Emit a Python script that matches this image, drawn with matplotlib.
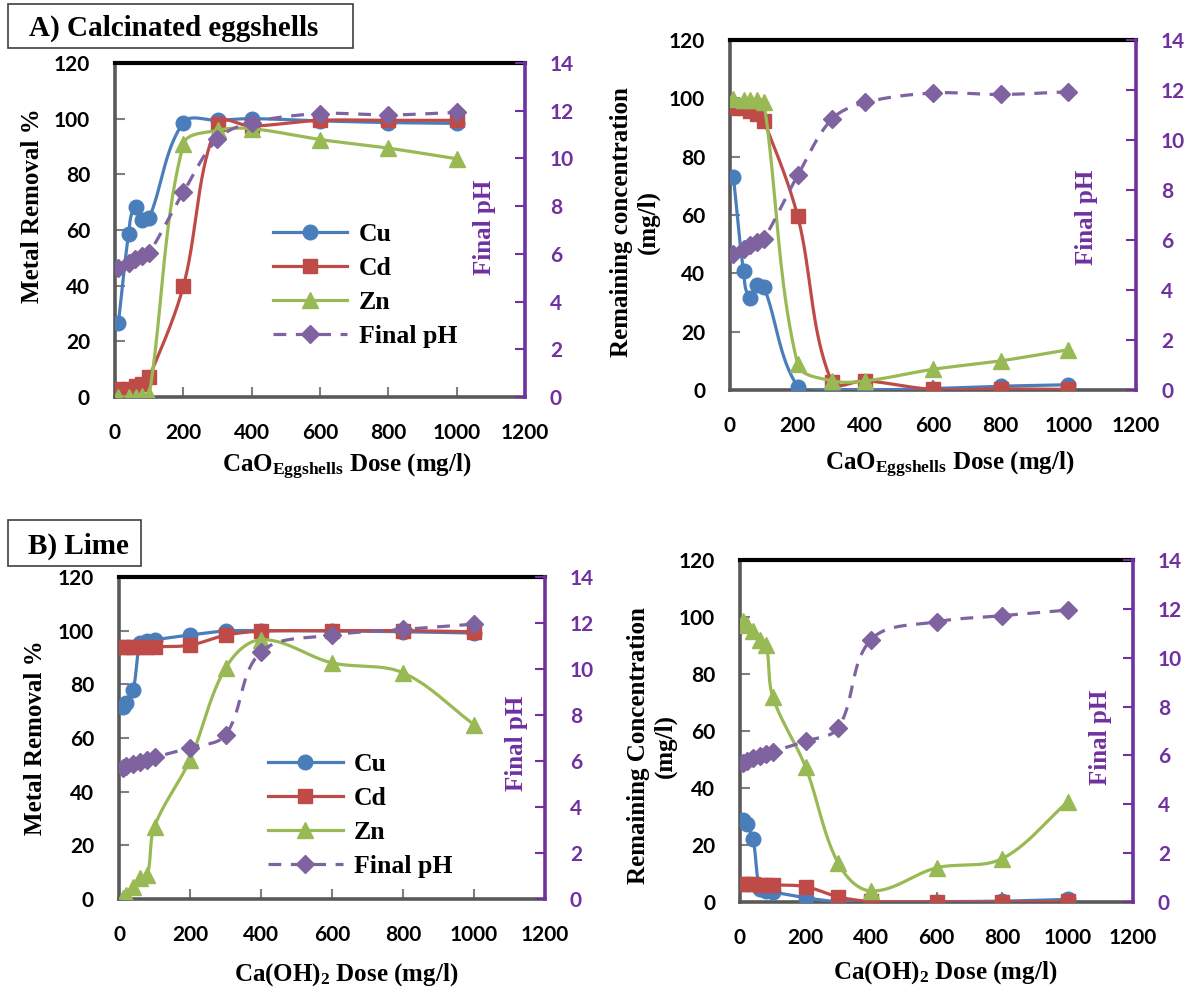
import numpy as np
import matplotlib
matplotlib.use('Agg')
import matplotlib.pyplot as plt
from matplotlib.lines import Line2D
from matplotlib.patches import Rectangle

plt.rcParams['font.family'] = ['Lato', 'DejaVu Sans']
plt.rcParams['font.weight'] = 'bold'
plt.rcParams['mathtext.fontset'] = 'custom'
plt.rcParams['mathtext.rm'] = 'Liberation Serif'
plt.rcParams['mathtext.bf'] = 'Liberation Serif:bold'
plt.rcParams['mathtext.it'] = 'Liberation Serif:italic'

# ---------------- data ----------------
dose_A = [10, 40, 60, 80, 100, 200, 300, 400, 600, 800, 1000]
cu_removal_A = [26.6, 58.6, 68.1, 63.7, 64.3, 98.6, 99.4, 100.0, 99.2, 98.6, 98.3]
cd_removal_A = [2.9, 2.9, 4.1, 4.6, 7.1, 39.8, 98.2, 97.3, 99.4, 99.4, 99.4]
zn_removal_A = [0.0, 0.0, 0.0, 0.2, 0.6, 90.8, 95.8, 96.4, 92.5, 89.4, 85.6]
ph_A = [5.42, 5.62, 5.78, 5.92, 6.04, 8.58, 10.82, 11.5, 11.88, 11.82, 11.93]
cu_remain_A = [73.2, 40.8, 31.6, 36.0, 35.4, 1.2, 0.3, 0.0, 0.5, 1.3, 1.8]
cd_remain_A = [96.8, 96.7, 95.6, 94.8, 92.3, 59.6, 2.9, 3.2, 0.2, 0.4, 0.2]
zn_remain_A = [99.8, 99.5, 99.5, 99.4, 98.8, 8.8, 3.2, 3.1, 7.1, 10.0, 13.8]

dose_B = [10, 20, 40, 60, 80, 100, 200, 300, 400, 600, 800, 1000]
cu_removal_B = [71.5, 73.0, 78.0, 95.4, 96.2, 96.6, 98.4, 99.9, 100.0, 99.9, 99.6, 99.1]
cd_removal_B = [93.8, 93.8, 93.8, 93.9, 94.0, 94.0, 94.6, 98.3, 99.8, 100.0, 100.0, 99.6]
zn_removal_B = [0.3, 1.5, 4.5, 7.8, 9.0, 27.0, 51.9, 86.0, 96.6, 88.0, 84.3, 65.0]
ph_B = [5.7, 5.78, 5.88, 5.97, 6.06, 6.16, 6.58, 7.13, 10.74, 11.47, 11.72, 11.95]
cu_remain_B = [28.6, 27.2, 22.0, 4.7, 3.9, 3.5, 1.5, 0.1, 0.0, 0.1, 0.3, 0.9]
cd_remain_B = [6.2, 6.2, 6.2, 6.1, 6.0, 6.0, 5.4, 1.8, 0.2, 0.0, 0.0, 0.2]
zn_remain_B = [98.7, 97.2, 95.2, 91.9, 90.2, 72.0, 47.4, 13.6, 3.9, 12.0, 15.2, 35.1]

x_ticks = [0, 200, 400, 600, 800, 1000, 1200]
y_ticks = [0, 20, 40, 60, 80, 100, 120]
ph_ticks = [0, 2, 4, 6, 8, 10, 12, 14]
series_labels = ['Cu', 'Cd', 'Zn', 'Final pH']

# ---------------- style ----------------
W, H = 1191, 994
C_CU = '#4A7EBB'
C_CD = '#BE4B48'
C_ZN = '#98B954'
C_PH = '#7F63A1'
C_AX2 = '#7030A0'
C_GRAY = '#7F7F7F'
SERIF = 'Liberation Serif'
MS = {'o': 10.5, 's': 9.5, '^': 11.5, 'D': 9.5}

fig = plt.figure(figsize=(W / 100, H / 100), dpi=100)


def fx(x):
    return x / W


def fy(y):
    return 1 - y / H


def smooth_xy(xs, ys, xmax, ymax, wpx, hpx, n=40):
    """Smoothed line through the points (Bezier, tangents scaled by segment length),
    computed in screen space."""
    px = np.asarray(xs, float) / xmax * wpx
    py = np.asarray(ys, float) / ymax * hpx
    P = np.column_stack([px, py])
    m = len(P)
    out = []
    t = np.linspace(0, 1, n)[:, None]

    def unit(v):
        nv = np.hypot(*v)
        return v / nv if nv > 0 else v

    for i in range(m - 1):
        p0 = P[max(i - 1, 0)]
        p1 = P[i]
        p2 = P[i + 1]
        p3 = P[min(i + 2, m - 1)]
        L = np.hypot(*(p2 - p1))
        c1 = p1 + unit(p2 - p0) * L / 3.0
        c2 = p2 - unit(p3 - p1) * L / 3.0
        seg = ((1 - t) ** 3) * p1 + 3 * ((1 - t) ** 2) * t * c1 + 3 * (1 - t) * t ** 2 * c2 + t ** 3 * p2
        out.append(seg if i == 0 else seg[1:])
    S = np.vstack(out)
    return S[:, 0] / wpx * xmax, S[:, 1] / hpx * ymax


def panel(box, dose, cu, cd, zn, ph, legend_at=None):
    l, t, r, b = box
    ax = fig.add_axes([fx(l), fy(b), fx(r) - fx(l), fy(t) - fy(b)])
    wpx, hpx = r - l, b - t
    ax.set_xlim(0, 1200)
    ax.set_ylim(0, 120)
    ax2 = ax.twinx()
    ax2.set_ylim(0, 14)

    specs = [(cu, C_CU, 'o'), (cd, C_CD, 's'), (zn, C_ZN, '^')]
    for k, (vals, col, mk) in enumerate(specs):
        sx, sy = smooth_xy(dose, vals, 1200, 120, wpx, hpx)
        ax.plot(sx, sy, color=col, lw=2.3, zorder=3 + k, solid_capstyle='round')
        ax.plot(dose, vals, ls='none', marker=mk, ms=MS[mk], color=col, zorder=3 + k)
    sx, sy = smooth_xy(dose, ph, 1200, 14, wpx, hpx)
    ax2.plot(sx, sy, color=C_PH, lw=2.3, dashes=(4, 3), zorder=3)
    ax2.plot(dose, ph, ls='none', marker='D', ms=MS['D'], color=C_PH, zorder=4)

    ax.set_xticks(x_ticks)
    ax.set_yticks(y_ticks)
    ax2.set_yticks(ph_ticks)
    ax.tick_params(axis='x', direction='in', length=7, width=1.5, color=C_GRAY,
                   pad=19, labelsize=15)
    ax.tick_params(axis='y', direction='in', length=7, width=1.5, color=C_GRAY,
                   pad=18, labelsize=15)
    ax2.tick_params(axis='y', direction='in', length=7, width=1.5, color=C_AX2,
                    pad=18, labelsize=15, labelcolor=C_AX2)
    for lbl in ax.get_xticklabels() + ax.get_yticklabels() + ax2.get_yticklabels():
        lbl.set_fontweight('bold')

    for s in ['left', 'bottom', 'top', 'right']:
        ax2.spines[s].set_visible(s == 'right')
    ax.spines['right'].set_visible(False)
    ax.spines['left'].set_color('#595959')
    ax.spines['bottom'].set_color('#595959')
    ax.spines['left'].set_linewidth(2.6)
    ax.spines['bottom'].set_linewidth(2.6)
    ax.spines['top'].set_color('black')
    ax.spines['top'].set_linewidth(3.0)
    ax2.spines['right'].set_color(C_AX2)
    ax2.spines['right'].set_linewidth(2.6)

    if legend_at is not None:
        handles = [
            Line2D([], [], color=C_CU, lw=2.3, marker='o', ms=MS['o']),
            Line2D([], [], color=C_CD, lw=2.3, marker='s', ms=MS['s']),
            Line2D([], [], color=C_ZN, lw=2.3, marker='^', ms=MS['^']),
            Line2D([], [], color=C_PH, lw=2.3, dashes=(4, 3), marker='D', ms=MS['D']),
        ]
        ax2.legend(handles, series_labels, loc='upper left', bbox_to_anchor=legend_at,
                   frameon=False, borderaxespad=0, borderpad=0, handlelength=2.9,
                   handletextpad=0.45, labelspacing=0.43,
                   prop={'family': SERIF, 'weight': 'bold', 'size': 18.5})
    return ax, ax2


# panel boxes (left, top, right, bottom) in pixels
panel((115, 63, 525, 397), dose_A, cu_removal_A, cd_removal_A, zn_removal_A, ph_A,
      legend_at=(0.385, 0.522))
panel((730, 40, 1136, 390), dose_A, cu_remain_A, cd_remain_A, zn_remain_A, ph_A)
panel((119, 577, 545, 899), dose_B, cu_removal_B, cd_removal_B, zn_removal_B, ph_B,
      legend_at=(0.35, 0.453))
panel((740, 560, 1133, 902), dose_B, cu_remain_B, cd_remain_B, zn_remain_B, ph_B)

LBL = dict(fontfamily=SERIF, fontweight='bold', fontsize=18)

# y labels (left)
fig.text(fx(33), fy(206), 'Metal Removal %', rotation=90, ha='center', va='center', **LBL)
fig.text(fx(635), fy(222), 'Remaining concentration\n(mg/l)', rotation=90, ha='center',
         va='center', multialignment='center', linespacing=1.15, **LBL)
fig.text(fx(36), fy(738), 'Metal Removal %', rotation=90, ha='center', va='center', **LBL)
fig.text(fx(652), fy(746), 'Remaining Concentration\n(mg/l)', rotation=90, ha='center',
         va='center', multialignment='center', linespacing=1.15, **LBL)

# right labels
for (xx, yy) in [(485, 227), (1087, 217), (517, 743), (1100, 737)]:
    fig.text(fx(xx), fy(yy), 'Final pH', rotation=90, ha='center', va='center',
             color=C_AX2, **LBL)

# x labels
xl_egg = r'CaO$_{\mathbf{Eggshells}}$ Dose (mg/l)'
xl_lime = r'Ca(OH)$_{\mathbf{2}}$ Dose (mg/l)'
fig.text(fx(347), fy(467), xl_egg, ha='center', va='center', **LBL)
fig.text(fx(950), fy(465), xl_egg, ha='center', va='center', **LBL)
fig.text(fx(346), fy(975), xl_lime, ha='center', va='center', **LBL)
fig.text(fx(945), fy(973), xl_lime, ha='center', va='center', **LBL)

# panel title boxes
fig.add_artist(Rectangle((fx(8), fy(48)), fx(353) - fx(8), fy(4) - fy(48),
                         transform=fig.transFigure, fill=False, ec='#3F3F3F', lw=1.2))
fig.text(fx(29), fy(28), 'A) Calcinated eggshells', ha='left', va='center',
         fontfamily=SERIF, fontweight='bold', fontsize=21)
fig.add_artist(Rectangle((fx(8), fy(566)), fx(141) - fx(8), fy(520) - fy(566),
                         transform=fig.transFigure, fill=False, ec='#3F3F3F', lw=1.2))
fig.text(fx(28), fy(546), 'B) Lime', ha='left', va='center',
         fontfamily=SERIF, fontweight='bold', fontsize=21)

fig.savefig('out.png', dpi=100)
